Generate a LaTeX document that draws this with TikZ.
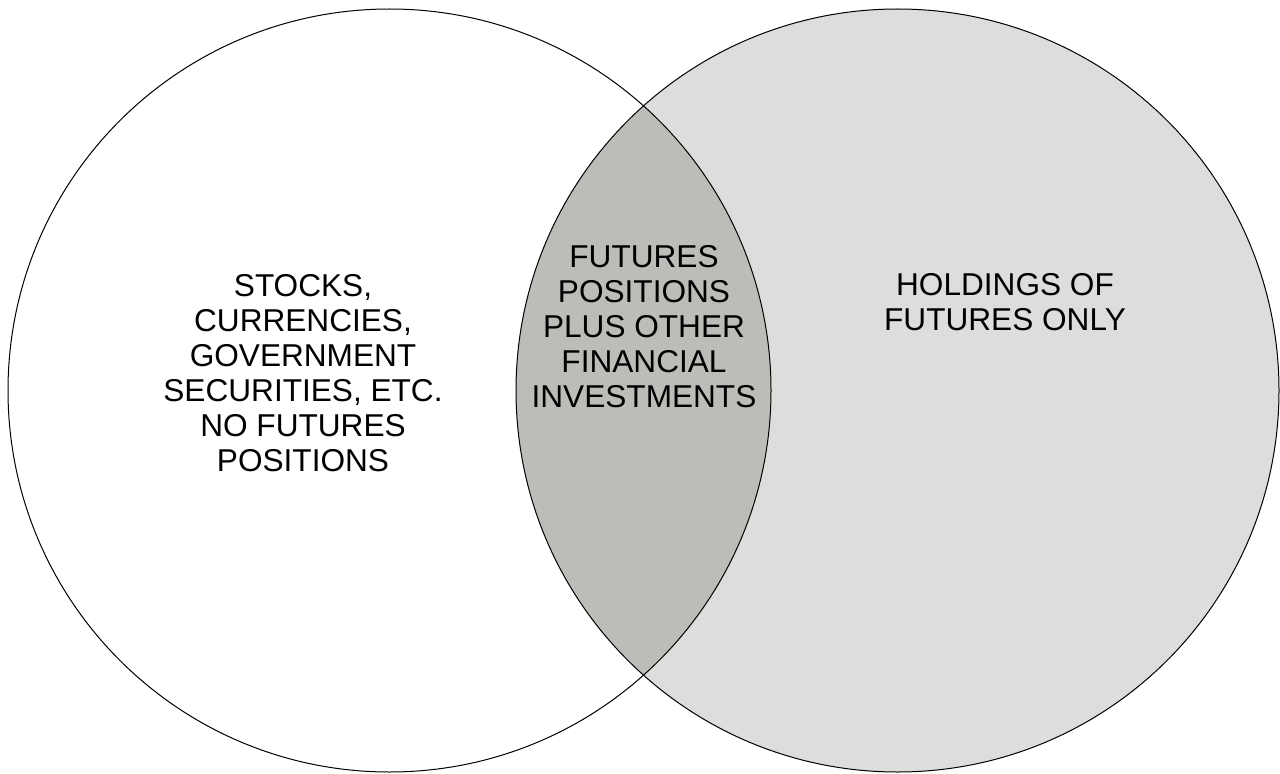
\documentclass[tikz,border=0pt]{standalone}
\usepackage{fontspec}
\setmainfont{Liberation Sans}
\definecolor{onlygray}{RGB}{221,221,220}
\definecolor{bothgray}{RGB}{187,189,184}

\begin{document}
\begin{tikzpicture}[x=0.5pt,y=0.5pt,
    setlabel/.style={align=center,inner sep=0pt,font=\fontsize{15.8}{17.5}\selectfont}]
      \useasboundingbox (0,0) rectangle (1280,773);
      \coordinate (CA) at (389.5,382.5);
      \coordinate (CB) at (897.5,382.5);

      \fill[onlygray] (CB) circle[radius=381.5];
      \begin{scope}
        \clip (CA) circle[radius=381.5];
        \fill[bothgray] (CB) circle[radius=381.5];
      \end{scope}
      \draw[line width=0.5pt] (CA) circle[radius=381.5];
      \draw[line width=0.5pt] (CB) circle[radius=381.5];

      \node[setlabel] (STK) at (303,399.5) {STOCKS,\\CURRENCIES,\\GOVERNMENT\\SECURITIES, ETC.\\NO FUTURES\\POSITIONS};
      \node[setlabel] (FUTPOS) at (644,446) {FUTURES\\POSITIONS\\PLUS OTHER\\FINANCIAL\\INVESTMENTS};
      \node[setlabel] (HOLD) at (1005,470.5) {HOLDINGS OF\\FUTURES ONLY};
    \end{tikzpicture}
\end{document}
